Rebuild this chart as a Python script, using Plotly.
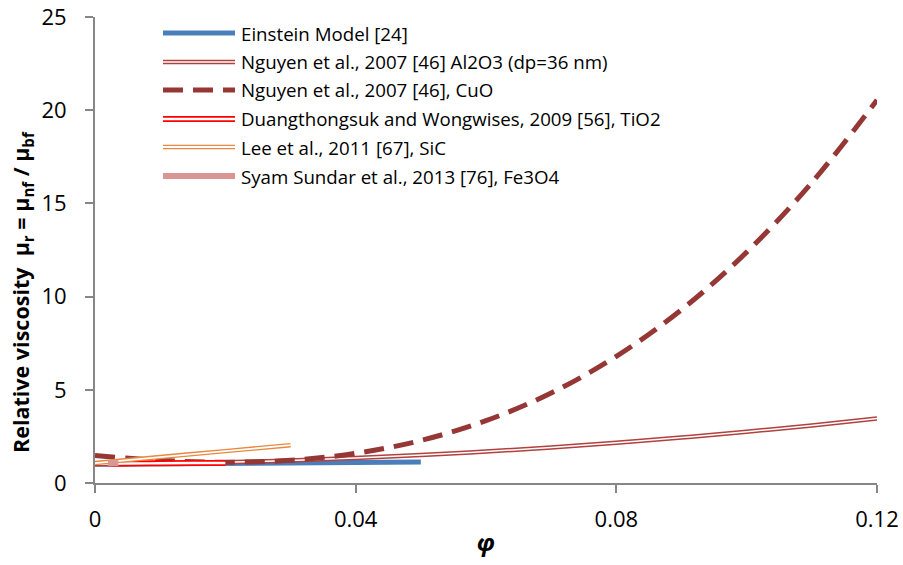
import plotly.graph_objects as go

# ---- data (volume fraction phi, relative viscosity) ----
phi_einstein = [0.0, 0.01, 0.02, 0.03, 0.04, 0.05]
mu_einstein = [1.0, 1.025, 1.05, 1.075, 1.10, 1.125]

phi_al2o3 = [0.0, 0.01, 0.02, 0.03, 0.04, 0.05, 0.06, 0.07, 0.08, 0.09, 0.10, 0.11, 0.12]
mu_al2o3 = [1.0, 1.04, 1.11, 1.21, 1.34, 1.50, 1.69, 1.91, 2.16, 2.44, 2.75, 3.09, 3.46]

phi_cuo = [0.0, 0.01, 0.02, 0.03, 0.04, 0.05, 0.06, 0.07, 0.08, 0.09, 0.10, 0.11, 0.12]
mu_cuo = [1.475, 1.216, 1.113, 1.22, 1.591, 2.28, 3.341, 4.828, 6.795, 9.296, 12.385, 16.116, 20.543]

phi_tio2 = [0.002, 0.005, 0.01, 0.015, 0.02]
mu_tio2 = [1.032, 1.044, 1.059, 1.069, 1.073]

phi_sic = [0.0, 0.01, 0.02, 0.03]
mu_sic = [1.07, 1.39, 1.71, 2.03]

phi_fe3o4 = [0.002, 0.0036]
mu_fe3o4 = [1.05, 1.07]

names = [
    "Einstein Model [24]",
    "Nguyen et al., 2007 [46] Al2O3 (dp=36 nm)",
    "Nguyen et al., 2007 [46], CuO",
    "Duangthongsuk and Wongwises, 2009 [56], TiO2",
    "Lee et al., 2011 [67], SiC",
    "Syam Sundar et al., 2013 [76], Fe3O4",
]

x_ticks = [0, 0.04, 0.08, 0.12]
x_tick_labels = ["0", "0.04", "0.08", "0.12"]
y_ticks = [0, 5, 10, 15, 20, 25]

C_BLUE = "#4A7EBB"
C_AL = "#B0413E"
C_CUO = "#953735"
C_TIO2 = "#FF0000"
C_SIC = "#E8873F"
C_FE = "#D99694"

fig = go.Figure()

def add_double(x, y, color, outer, inner, name):
    fig.add_trace(go.Scatter(x=x, y=y, mode="lines", name=name, showlegend=False,
                             line=dict(color=color, width=outer, shape="spline")))
    fig.add_trace(go.Scatter(x=x, y=y, mode="lines", showlegend=False, hoverinfo="skip",
                             line=dict(color="white", width=inner, shape="spline")))

fig.add_trace(go.Scatter(x=phi_einstein, y=mu_einstein, mode="lines", name=names[0],
                         showlegend=False, line=dict(color=C_BLUE, width=5)))
add_double(phi_al2o3, mu_al2o3, C_AL, 4.5, 1.5, names[1])
fig.add_trace(go.Scatter(x=phi_cuo, y=mu_cuo, mode="lines", name=names[2], showlegend=False,
                         line=dict(color=C_CUO, width=5, dash="20px,10px", shape="spline")))
add_double(phi_tio2, mu_tio2, C_TIO2, 6, 2.4, names[3])
add_double(phi_sic, mu_sic, C_SIC, 4.5, 1.8, names[4])
fig.add_trace(go.Scatter(x=phi_fe3o4, y=mu_fe3o4, mode="lines", name=names[5],
                         showlegend=False, line=dict(color=C_FE, width=6)))

# ---- manual legend (paper coordinates) ----
L, R, T, B = 95, 26, 17, 82
W, H = 903, 565
pw, ph = W - L - R, H - T - B

def px(xp):
    return (xp - L) / pw

def py(yp):
    return (H - B - yp) / ph

rows = [33, 62, 90, 119, 147, 176]
styles = [
    dict(color=C_BLUE, width=5, dash="solid", inner=None),
    dict(color=C_AL, width=4.5, dash="solid", inner=1.5),
    dict(color=C_CUO, width=5, dash="20px,10px", inner=None),
    dict(color=C_TIO2, width=6, dash="solid", inner=2.4),
    dict(color=C_SIC, width=4.5, dash="solid", inner=1.8),
    dict(color=C_FE, width=6, dash="solid", inner=None),
]
for yr, st, nm in zip(rows, styles, names):
    fig.add_shape(type="line", xref="paper", yref="paper",
                  x0=px(163), x1=px(235), y0=py(yr), y1=py(yr),
                  line=dict(color=st["color"], width=st["width"], dash=st["dash"]))
    if st["inner"]:
        fig.add_shape(type="line", xref="paper", yref="paper",
                      x0=px(163), x1=px(235), y0=py(yr), y1=py(yr),
                      line=dict(color="white", width=st["inner"]))
    fig.add_annotation(x=px(239), y=py(yr), xref="paper", yref="paper", text=nm,
                       showarrow=False, xanchor="left", yanchor="middle",
                       font=dict(family="Open Sans", size=18.7, color="#000000"))

# y-axis title as annotation
fig.add_annotation(x=px(22), y=py(292), xref="paper", yref="paper", textangle=-90,
                   text="<b>Relative viscosity  μ<sub>r</sub> = μ<sub>nf</sub> / μ<sub>bf</sub></b>",
                   showarrow=False, xanchor="center", yanchor="middle",
                   font=dict(family="Open Sans", size=21.5, color="#000000"))

fig.update_layout(
    width=W, height=H,
    margin=dict(l=L, r=R, t=T, b=B, autoexpand=False),
    plot_bgcolor="white", paper_bgcolor="white",
    font=dict(family="Open Sans", color="#000000"),
    showlegend=False,
    xaxis=dict(range=[0, 0.12], tickvals=x_ticks, ticktext=x_tick_labels, automargin=False,
               showgrid=False, zeroline=False, showline=True, linecolor="#868686", linewidth=2,
               ticks="outside", ticklen=8, tickwidth=2, tickcolor="#868686",
               ticklabelstandoff=8,
               tickfont=dict(size=22, family="Open Sans"),
               title=dict(text="<b><i>φ</i></b>", font=dict(size=24, family="Open Sans"), standoff=2)),
    yaxis=dict(range=[0, 25], tickvals=y_ticks, automargin=False,
               showgrid=False, zeroline=False, showline=True, linecolor="#868686", linewidth=2,
               ticks="outside", ticklen=8, tickwidth=2, tickcolor="#868686",
               ticklabelstandoff=14,
               tickfont=dict(size=22, family="Open Sans")),
)

fig.write_html("out.html")
